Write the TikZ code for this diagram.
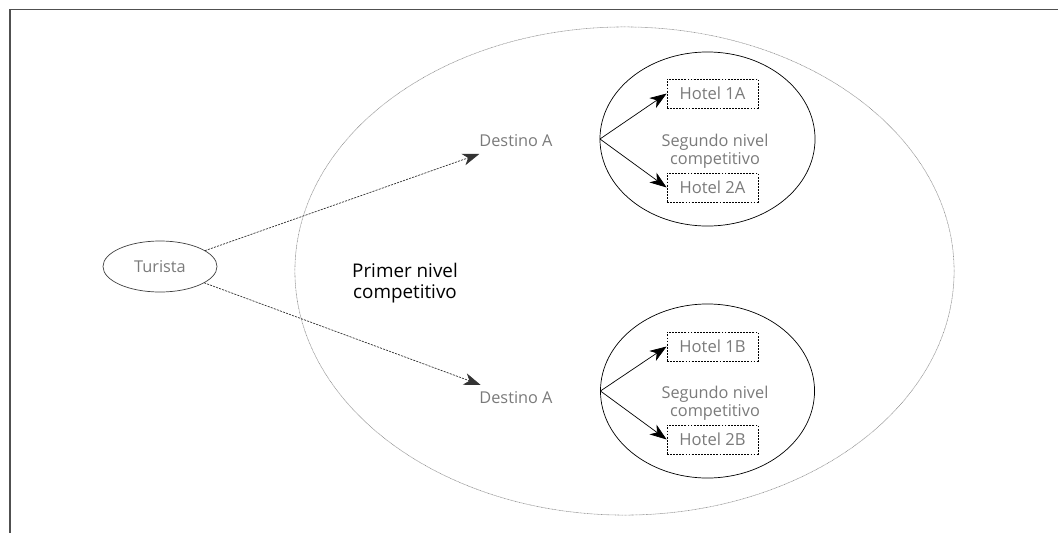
\documentclass[tikz,border=0pt]{standalone}
\usepackage{fontspec}
\setmainfont{Open Sans}
\usetikzlibrary{arrows.meta, shapes.geometric}
\definecolor{textgris}{HTML}{7A7A7A}
\definecolor{marco}{HTML}{505050}
\tikzset{
  lbl/.style={text=textgris, font=\fontsize{11.6}{12.8}\selectfont, inner sep=2pt},
  nivel/.style={draw, ellipse, inner sep=0pt, outer sep=0pt},
  hotel/.style={draw, dash pattern=on 1.3pt off 0.9pt, line width=0.5pt, text=textgris,
    font=\fontsize{11.8}{12.8}\selectfont, minimum width=2.275cm, minimum height=0.725cm, inner sep=0pt},
  eleccion/.style={-{Stealth[length=12pt, width=8.5pt, inset=3.5pt]}, line width=0.5pt},
  viaje/.style={-{Stealth[length=12pt, width=8.5pt, inset=3.5pt]}, line width=0.5pt,
    dash pattern=on 1.5pt off 0.8pt, draw=black!80}
}

\begin{document}
\begin{tikzpicture}[x=0.025cm, y=-0.025cm]
  \useasboundingbox (0,0) rectangle (1058,533);
  % marco (solo arriba e izquierda)
  \draw[marco, line width=0.9pt] (1058,9.5) -- (10,9.5) -- (10,533);
  % primer nivel
  \node[nivel, draw=black!45, dash pattern=on 0.6pt off 0.4pt, line width=0.4pt,
    minimum width=16.475cm, minimum height=12.2cm] (nivel1) at (624.5,271) {};
  \node[text=black, font=\fontsize{13.4}{14.4}\selectfont, align=center] (primer) at (405,283)
    {Primer nivel\\competitivo};
  % turista
  \node[nivel, draw=black!75, line width=0.5pt, minimum width=2.85cm, minimum height=1.275cm,
    lbl] (turista) at (160,266.5) {Turista};
  % destinos
  \node[lbl] (destA) at (516,141) {Destino A};
  \node[lbl] (destB) at (516,398) {Destino A};
  \draw[viaje, shorten >=8pt] (turista) -- (destA);
  \draw[viaje, shorten >=8pt] (turista) -- (destB);
  % segundo nivel, destino de arriba
  \node[nivel, line width=0.5pt, minimum width=5.375cm, minimum height=4.35cm] (nivelA) at (707.5,139) {};
  \node[hotel] (h1A) at (712.5,93.5) {Hotel 1A};
  \node[hotel] (h2A) at (712.5,187.5) {Hotel 2A};
  \node[lbl, align=center] (segA) at (715,151) {Segundo nivel\\competitivo};
  \draw[eleccion] (nivelA.west) -- (h1A.west);
  \draw[eleccion] (nivelA.west) -- (h2A.west);
  % segundo nivel, destino de abajo
  \node[nivel, line width=0.5pt, minimum width=5.35cm, minimum height=4.35cm] (nivelB) at (707.5,391) {};
  \node[hotel] (h1B) at (712.5,346.5) {Hotel 1B};
  \node[hotel] (h2B) at (712.5,439.5) {Hotel 2B};
  \node[lbl, align=center] (segB) at (715,403) {Segundo nivel\\competitivo};
  \draw[eleccion] (nivelB.west) -- (h1B.west);
  \draw[eleccion] (nivelB.west) -- (h2B.west);
\end{tikzpicture}
\end{document}
